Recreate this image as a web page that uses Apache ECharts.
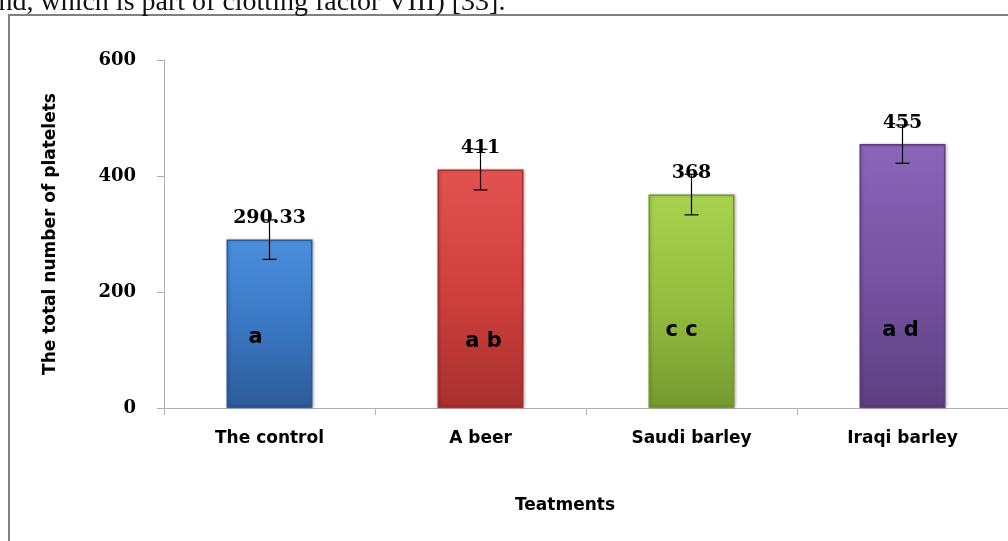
<!DOCTYPE html>
<html><head><meta charset="utf-8">
<script src="https://cdn.jsdelivr.net/npm/echarts@6/dist/echarts.min.js"></script>
<style>html,body{margin:0;padding:0;background:#fff}#c{width:1008px;height:541px}</style>
</head><body><div id="c"></div>
<script>
const categories = ['The control', 'A beer', 'Saudi barley', 'Iraqi barley'];
const means = [290.33, 411, 368, 455];
const meanLabels = ['290.33', '411', '368', '455'];
const errors = [34, 35, 35, 33];
const letters = ['a', 'a b', 'c c', 'a d'];
const letterValues = [121, 115, 134, 134];
const yTicks = [0, 200, 400, 600];

const barColors = [
  ['#4a8ede', '#3a78c4', '#2d5b98'],
  ['#e25250', '#d0403d', '#a8302e'],
  ['#a9d24e', '#95be40', '#76992f'],
  ['#8b65b8', '#7753a3', '#5c3f80']
];
const letterOffsets = [[-14, 0], [3, 0], [-10, 0], [-2, 0]];

function grad(c) {
  return new echarts.graphic.LinearGradient(0, 0, 0, 1, [
    {offset: 0, color: c[0]}, {offset: 0.5, color: c[1]}, {offset: 1, color: c[2]}
  ]);
}

const sans = '"DejaVu Sans", Arial, sans-serif';
const serif = '"DejaVu Serif", "Times New Roman", serif';

const chart = echarts.init(document.getElementById('c'));
chart.setOption({
  animation: false,
  grid: {left: 164, right: 0, top: 60, bottom: 133, containLabel: false},
  graphic: [
    {type: 'rect', shape: {x: 9, y: 15, width: 1100, height: 600},
     style: {fill: 'none', stroke: '#808080', lineWidth: 2}, z: 0},
    {type: 'text', x: -14, y: -11,
     style: {text: 'and, which is part of clotting factor VIII) [33].',
             font: '28px "Liberation Serif", serif', fill: '#111', textVerticalAlign: 'top'}}
  ],
  xAxis: {
    type: 'category', data: categories,
    axisLine: {lineStyle: {color: '#b0b0b0', width: 1}},
    axisTick: {show: true, length: 7, lineStyle: {color: '#b0b0b0'}},
    axisLabel: {margin: 22, color: '#000', fontFamily: sans, fontWeight: 'bold', fontSize: 17},
    name: 'Teatments', nameLocation: 'middle', nameGap: 89,
    nameTextStyle: {color: '#000', fontFamily: sans, fontWeight: 'bold', fontSize: 17, padding: [0, 42, 0, 0]}
  },
  yAxis: {
    type: 'value', min: 0, max: 600, interval: 200,
    axisLine: {show: true, lineStyle: {color: '#b0b0b0'}},
    axisTick: {show: true, length: 7, lineStyle: {color: '#b0b0b0'}},
    splitLine: {show: false},
    axisLabel: {margin: 28, color: '#000', fontFamily: serif, fontWeight: 'bold', fontSize: 18,
      formatter: v => yTicks.includes(v) ? String(v) : ''},
    name: 'The total number of platelets', nameLocation: 'middle', nameGap: 105, nameRotate: 90,
    nameTextStyle: {color: '#000', fontFamily: sans, fontWeight: 'bold', fontSize: 17}
  },
  series: [
    {
      type: 'bar', barWidth: 86, z: 2,
      data: means.map((v, i) => ({value: v,
        itemStyle: {color: grad(barColors[i]), borderColor: barColors[i][2], borderWidth: 1.5,
                    shadowColor: 'rgba(0,0,0,0.25)', shadowBlur: 3, shadowOffsetX: 1},
        label: {show: true, position: 'top', distance: 12, formatter: meanLabels[i]}})),
      label: {color: '#000', fontFamily: serif, fontWeight: 'bold', fontSize: 19}
    },
    {
      type: 'custom', z: 5,
      data: means.map((v, i) => [i, v, errors[i]]),
      renderItem: function (params, api) {
        const x = api.value(0), m = api.value(1), e = api.value(2);
        const top = api.coord([x, m + e]), bot = api.coord([x, m - e]);
        const hw = 7;
        const st = {stroke: '#000', lineWidth: 1.2};
        return {type: 'group', children: [
          {type: 'line', shape: {x1: top[0], y1: top[1], x2: bot[0], y2: bot[1]}, style: st},
          {type: 'line', shape: {x1: top[0] - hw, y1: top[1], x2: top[0] + hw, y2: top[1]}, style: st},
          {type: 'line', shape: {x1: bot[0] - hw, y1: bot[1], x2: bot[0] + hw, y2: bot[1]}, style: st}
        ]};
      }
    },
    {
      type: 'scatter', symbol: 'circle', symbolSize: 1, z: 6,
      itemStyle: {color: 'rgba(0,0,0,0)', opacity: 1},
      data: letterValues.map((v, i) => ({value: [i, v], label: {offset: letterOffsets[i]}})),
      label: {show: true, position: 'inside', color: '#000', opacity: 1, fontFamily: sans, fontWeight: 'bold', fontSize: 21,
        formatter: p => letters[p.dataIndex]}
    }
  ]
});
</script></body></html>
